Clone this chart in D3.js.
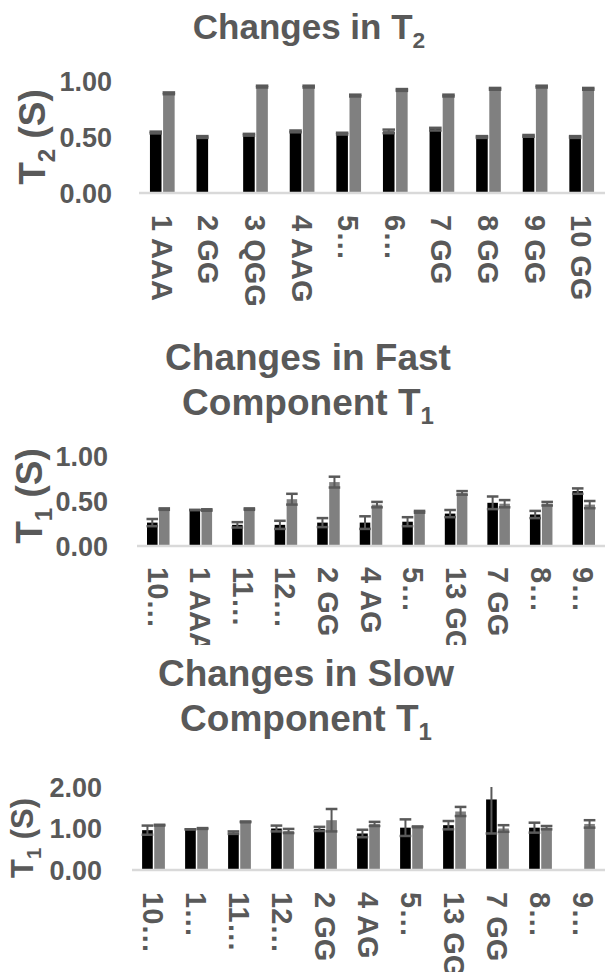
<!DOCTYPE html>
<html>
<head>
<meta charset="utf-8">
<script src="https://cdn.jsdelivr.net/npm/d3@7"></script>
<style>
  body { margin: 0; background: #fff; }
  svg { display: block; font-family: "Liberation Sans", Arial, sans-serif; font-weight: bold; }
  text { fill: #595959; }
</style>
</head>
<body>
<svg id="chart" width="605" height="972"></svg>
<script>
// panel 1: T2
const t2Labels = ["1 AAA", "2 GG", "3 QGG", "4 AAG", "5…", "6…", "7 GG", "8 GG", "9 GG", "10 GG"];
const t2Black = [0.54, 0.50, 0.52, 0.55, 0.53, 0.55, 0.57, 0.50, 0.51, 0.50];
const t2BlackErr = [0.008, 0.008, 0.008, 0.008, 0.008, 0.016, 0.012, 0.008, 0.008, 0.008];
const t2Gray = [0.89, null, 0.95, 0.95, 0.87, 0.92, 0.87, 0.93, 0.95, 0.93];
const t2GrayErr = [0.008, 0, 0.008, 0.008, 0.008, 0.008, 0.008, 0.008, 0.008, 0.008];
const t2Ticks = [0, 0.5, 1];

// panel 2: fast component T1
const fastLabels = ["10…", "1 AAA", "11…", "12…", "2 GG", "4 AG", "5…", "13 GG", "7 GG", "8…", "9…"];
const fastBlack = [0.26, 0.40, 0.235, 0.235, 0.26, 0.26, 0.27, 0.36, 0.48, 0.35, 0.61];
const fastBlackErr = [0.04, 0, 0.03, 0.045, 0.05, 0.07, 0.05, 0.04, 0.07, 0.04, 0.03];
const fastGray = [0.41, 0.40, 0.41, 0.52, 0.71, 0.46, 0.38, 0.59, 0.47, 0.47, 0.46];
const fastGrayErr = [0.008, 0.008, 0.008, 0.06, 0.06, 0.03, 0.01, 0.02, 0.04, 0.02, 0.04];
const fastTicks = [0, 0.5, 1];

// panel 3: slow component T1
const slowLabels = ["10…", "1…", "11…", "12…", "2 GG", "4 AG", "5…", "13 GG", "7 GG", "8…", "9…"];
const slowBlack = [0.96, 0.98, 0.90, 1.00, 0.99, 0.88, 1.02, 1.08, 1.70, 1.02, null];
const slowBlackErr = [0.11, 0, 0.03, 0.07, 0.05, 0.09, 0.2, 0.1, 0.82, 0.12, 0];
const slowGray = [1.08, 1.00, 1.16, 0.94, 1.20, 1.11, 1.04, 1.41, 1.00, 1.02, 1.11];
const slowGrayErr = [0.01, 0.01, 0.01, 0.05, 0.27, 0.05, 0.01, 0.11, 0.08, 0.04, 0.09];
const slowTicks = [0, 1, 2];

const seriesColors = {black: "#000000", gray: "#808080"};
const svg = d3.select("#chart");

function drawPanel(p) {
  const g = svg.append("g");

  // title, one line per entry, subscript as a tspan
  p.title.forEach((line, i) => {
    const t = g.append("text")
      .attr("x", p.titleX)
      .attr("y", p.titleY + i * p.titleGap)
      .attr("text-anchor", "middle")
      .attr("font-size", p.titleSize);
    t.append("tspan").text(line[0]);
    if (line[1]) {
      t.append("tspan").attr("font-size", p.titleSize * 0.65).attr("dy", p.titleSize * 0.25).text(line[1]);
    }
  });

  const y = d3.scaleLinear().domain([0, p.max]).range([p.y0, p.y1]);
  const x = d3.scaleBand()
    .domain(p.labels)
    .range([p.x0, 605])
    .paddingInner(0.47)
    .paddingOuter(0.235);
  const sub = d3.scaleBand()
    .domain(["black", "gray"])
    .range([0, x.bandwidth()])
    .paddingInner(0.12);

  const rows = p.labels.map((l, i) => ({
    label: l,
    bars: [
      {key: "black", v: p.black[i], e: p.blackErr[i]},
      {key: "gray", v: p.gray[i], e: p.grayErr[i]}
    ]
  }));

  const grp = g.selectAll(".grp")
    .data(rows)
    .join("g")
    .attr("transform", d => `translate(${x(d.label)},0)`);

  const bar = grp.selectAll(".bar")
    .data(d => d.bars.filter(b => b.v != null))
    .join("g");

  bar.append("rect")
    .attr("x", b => sub(b.key))
    .attr("width", sub.bandwidth())
    .attr("y", b => y(b.v))
    .attr("height", b => y(0) - y(b.v))
    .attr("fill", b => seriesColors[b.key]);

  // error bars, clipped at the top of the value axis
  const capW = sub.bandwidth() + 1;
  bar.each(function(b) {
    const s = d3.select(this);
    const cx = sub(b.key) + sub.bandwidth() / 2;
    const hi = Math.min(b.v + b.e, p.max);
    const lo = b.v - b.e;
    s.append("line")
      .attr("x1", cx).attr("x2", cx)
      .attr("y1", y(hi)).attr("y2", y(lo))
      .attr("stroke", "#595959").attr("stroke-width", 2);
    const caps = b.v + b.e > p.max ? [lo] : [hi, lo];
    caps.forEach(c => {
      s.append("line")
        .attr("x1", cx - capW / 2).attr("x2", cx + capW / 2)
        .attr("y1", y(c)).attr("y2", y(c))
        .attr("stroke", "#595959").attr("stroke-width", 2.5);
    });
  });

  // category axis line
  g.append("line")
    .attr("x1", p.x0).attr("x2", 605)
    .attr("y1", y(0)).attr("y2", y(0))
    .attr("stroke", "#d9d9d9").attr("stroke-width", 2.5);

  // value tick labels
  g.selectAll(".tick")
    .data(p.ticks)
    .join("text")
    .attr("x", p.tickX)
    .attr("y", d => y(d))
    .attr("dy", "0.36em")
    .attr("text-anchor", "end")
    .attr("font-size", 27)
    .text(d3.format(".2f"));

  // category labels, rotated to read downwards
  const lab = g.append("g");
  if (p.clipBottom) {
    const id = "clip" + p.y0;
    svg.append("clipPath").attr("id", id)
      .append("rect").attr("x", 0).attr("y", y(0)).attr("width", 605).attr("height", p.clipBottom - y(0));
    lab.attr("clip-path", `url(#${id})`);
  }
  lab.selectAll("text")
    .data(p.labels)
    .join("text")
    .attr("transform", d => `translate(${x(d) + x.bandwidth() / 2},${p.labelY}) rotate(90)`)
    .attr("dy", "0.36em")
    .attr("font-size", 29)
    .text(d => d);

  // value axis title
  const at = g.append("text")
    .attr("transform", `translate(${p.axisTitleX},${p.axisTitleY}) rotate(-90)`)
    .attr("text-anchor", "middle")
    .attr("dy", "0.36em")
    .attr("font-size", p.axisTitleSize);
  at.append("tspan").text("T");
  at.append("tspan").attr("font-size", p.axisTitleSize * 0.65).attr("dy", p.axisTitleSize * 0.25).text(p.sub);
  at.append("tspan").attr("dy", -p.axisTitleSize * 0.25).text(" (S)");
}

drawPanel({
  title: [["Changes in T", "2"]], titleX: 309, titleY: 39, titleGap: 0, titleSize: 35,
  labels: t2Labels, black: t2Black, blackErr: t2BlackErr, gray: t2Gray, grayErr: t2GrayErr,
  ticks: t2Ticks, max: 1, y0: 193, y1: 81, x0: 139, tickX: 112,
  labelY: 215, axisTitleX: 32, axisTitleY: 137, axisTitleSize: 37, sub: "2"
});

drawPanel({
  title: [["Changes in Fast"], ["Component T", "1"]], titleX: 308, titleY: 370, titleGap: 45, titleSize: 37,
  labels: fastLabels, black: fastBlack, blackErr: fastBlackErr, gray: fastGray, grayErr: fastGrayErr,
  ticks: fastTicks, max: 1, y0: 546, y1: 456, x0: 137, tickX: 108,
  labelY: 567, axisTitleX: 29, axisTitleY: 496, axisTitleSize: 37, sub: "1", clipBottom: 645
});

drawPanel({
  title: [["Changes in Slow"], ["Component T", "1"]], titleX: 306, titleY: 686, titleGap: 45, titleSize: 37,
  labels: slowLabels, black: slowBlack, blackErr: slowBlackErr, gray: slowGray, grayErr: slowGrayErr,
  ticks: slowTicks, max: 2, y0: 870, y1: 787, x0: 132, tickX: 102,
  labelY: 892, axisTitleX: 22, axisTitleY: 838, axisTitleSize: 31, sub: "1"
});
</script>
</body>
</html>
